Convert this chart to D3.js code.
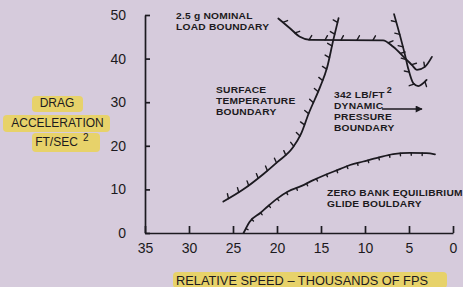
<!DOCTYPE html>
<html>
<head>
<meta charset="utf-8">
<script src="https://cdn.jsdelivr.net/npm/d3@7"></script>
<style>
  body { margin: 0; background: #d6cbdc; }
  svg { display: block; }
  text { font-family: "Liberation Sans", Arial, sans-serif; fill: #1c1a20; }
</style>
</head>
<body>
<div id="chart"></div>
<script>
// values (x = relative speed, thousands of fps; y = drag accel ft/sec^2)
const xTicks = [35, 30, 25, 20, 15, 10, 5, 0];
const yTicks = [0, 10, 20, 30, 40, 50];

const surfaceTemp = [
  [26.1, 7.2], [23.9, 9.9], [21.5, 13.6], [20.0, 16.2], [18.2, 19.6], [17.3, 22.6],
  [16.4, 27.4], [15.1, 33.5], [14.3, 38.0], [13.6, 44.3], [13.0, 49.3]
];
const loadBoundary = [
  [19.85, 49.2], [18.5, 46.9], [17.4, 45.0], [16.25, 44.3],
  [7.95, 44.2], [6.8, 42.7], [5.45, 40.1], [4.65, 38.5], [4.1, 37.4],
  [3.2, 38.1], [2.4, 40.4]
];
const dynPressure = [
  [6.7, 50.2], [5.45, 40.8], [5.1, 37.8], [4.5, 34.3], [3.95, 33.7], [3.0, 35.1]
];
const glide = [
  [23.8, 0], [23.1, 2.6], [21.9, 4.6], [21.0, 6.2], [19.9, 8.0], [18.75, 9.5],
  [17.2, 10.8], [16.0, 12.0], [14.55, 13.3], [12.8, 14.7], [11.7, 15.6],
  [10.2, 16.4], [8.5, 17.3], [6.8, 18.1], [4.9, 18.4], [3.0, 18.3], [2.05, 18.05]
];

const width = 463, height = 287;
const ink = '#1c1a20';

const svg = d3.select('#chart')
  .append('svg')
    .attr('width', width)
    .attr('height', height);

const x = d3.scaleLinear().domain([35, 0]).range([145, 453]);
const y = d3.scaleLinear().domain([0, 50]).range([233, 15]);

// axis title highlights
const hl = svg.append('g').attr('fill', '#e9d35e').attr('opacity', 0.9);
hl.append('rect').attr('x', 32).attr('y', 96).attr('width', 51).attr('height', 16).attr('rx', 4);
hl.append('rect').attr('x', 3).attr('y', 115).attr('width', 107).attr('height', 17).attr('rx', 4);
hl.append('rect').attr('x', 32).attr('y', 133).attr('width', 68).attr('height', 19).attr('rx', 4);
hl.append('rect').attr('x', 173).attr('y', 272).attr('width', 274).attr('height', 16).attr('rx', 4);

// axes
const yAxis = svg.append('g')
  .attr('transform', 'translate(' + x(35) + ',0)')
  .call(d3.axisLeft(y).tickValues(yTicks).tickSize(-5).tickSizeOuter(0).tickPadding(19));
const xAxis = svg.append('g')
  .attr('transform', 'translate(0,' + y(0) + ')')
  .call(d3.axisBottom(x).tickValues(xTicks).tickSize(-7).tickSizeOuter(0).tickPadding(10));

[yAxis, xAxis].forEach(a => {
  a.selectAll('path, line').attr('stroke', ink).attr('stroke-width', 1.7);
  a.selectAll('text').style('font-size', '14px').attr('fill', ink);
});

// curves
const line = d3.line()
  .x(d => x(d[0]))
  .y(d => y(d[1]))
  .curve(d3.curveMonotoneX);

const curvesG = svg.append('g')
  .attr('fill', 'none')
  .attr('stroke', ink)
  .attr('stroke-width', 1.8)
  .attr('stroke-linecap', 'round');

function drawCurve(data, spacing, len, side, tilt, start) {
  const node = curvesG.append('path').attr('d', line(data)).node();
  const total = node.getTotalLength();
  for (let s = start; s < total - 2; s += spacing) {
    const a = node.getPointAtLength(Math.max(0, s - 1));
    const b = node.getPointAtLength(Math.min(total, s + 1));
    let tx = b.x - a.x, ty = b.y - a.y;
    const m = Math.hypot(tx, ty) || 1;
    tx /= m; ty /= m;
    // normal, tilted along the curve
    const nx = ty * side, ny = -tx * side;
    const c = Math.cos(tilt), sn = Math.sin(tilt);
    const dx = nx * c + tx * sn, dy = ny * c + ty * sn;
    const pt = node.getPointAtLength(s);
    curvesG.append('line')
      .attr('x1', pt.x).attr('y1', pt.y)
      .attr('x2', pt.x + dx * len).attr('y2', pt.y + dy * len)
      .attr('stroke-width', 1.4);
  }
}

drawCurve(surfaceTemp, 12, 5, 1, 0.3, 6);
drawCurve(loadBoundary, 16, 5, 1, 0.5, 6);
drawCurve(dynPressure, 13, 5, -1, -0.5, 8);
drawCurve(glide, 11, 2.5, -1, 0, 5);

// arrow for dynamic pressure label
svg.append('defs').append('marker')
    .attr('id', 'arrow')
    .attr('viewBox', '0 0 10 10')
    .attr('refX', 9).attr('refY', 5)
    .attr('markerWidth', 8).attr('markerHeight', 7)
    .attr('markerUnits', 'userSpaceOnUse')
    .attr('orient', 'auto')
  .append('path')
    .attr('d', 'M0,0L10,5L0,10Z')
    .attr('fill', ink);
svg.append('line')
  .attr('x1', 382).attr('y1', 109).attr('x2', 422).attr('y2', 109)
  .attr('stroke', ink).attr('stroke-width', 1.7)
  .attr('marker-end', 'url(#arrow)');

// annotations (slightly stretched sideways, like the original lettering)
const notes = [
  { x: 176, y: [19, 30], lines: ['2.5 g  NOMINAL', 'LOAD BOUNDARY'] },
  { x: 216, y: [93, 104, 115], lines: ['SURFACE', 'TEMPERATURE', 'BOUNDARY'] },
  { x: 334, y: [98, 109, 120, 131], lines: ['342 LB/FT', 'DYNAMIC', 'PRESSURE', 'BOUNDARY'] },
  { x: 327, y: [196, 207], lines: ['ZERO BANK EQUILIBRIUM', 'GLIDE BOULDARY'] }
];
let supX = 0;
notes.forEach(n => {
  n.lines.forEach((t, i) => {
    const txt = svg.append('g')
        .attr('transform', 'translate(' + n.x + ',' + n.y[i] + ') scale(1.1,1)')
      .append('text')
        .style('font-size', '9.3px')
        .style('font-weight', 'bold')
        .style('letter-spacing', '0.2px')
        .text(t);
    if (t === '342 LB/FT') supX = n.x + txt.node().getComputedTextLength() * 1.1;
  });
});
svg.append('text').attr('x', supX + 2).attr('y', 93)
  .style('font-size', '9px').style('font-weight', 'bold').text('2');

// axis titles
const yTitle = ['DRAG', 'ACCELERATION', 'FT/SEC'];
const yTitleX = [57, 57.5, 56.5];
const yTitleY = [107, 127, 146];
yTitle.forEach((t, i) => {
  svg.append('text')
    .attr('x', yTitleX[i]).attr('y', yTitleY[i])
    .attr('text-anchor', 'middle')
    .style('font-size', '12px')
    .text(t);
});
svg.append('text').attr('x', 83).attr('y', 141).style('font-size', '10px').text('2');

svg.append('text')
  .attr('x', 176).attr('y', 285)
  .style('font-size', '12.8px')
  .text('RELATIVE SPEED \u2013 THOUSANDS OF FPS');
</script>
</body>
</html>
